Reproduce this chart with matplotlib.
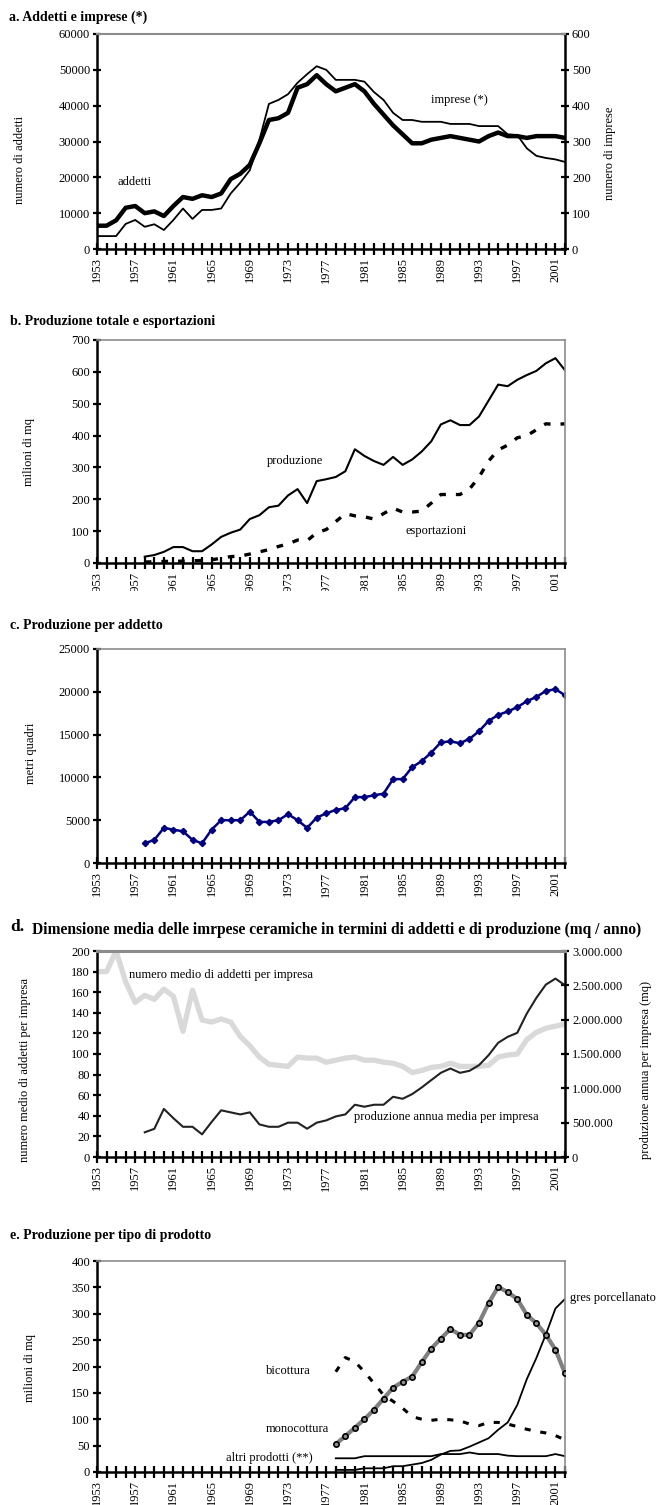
import numpy as np
import matplotlib
matplotlib.use("Agg")
import matplotlib.pyplot as plt
from matplotlib.ticker import FuncFormatter, MultipleLocator
from matplotlib.patches import Rectangle

plt.rcParams['font.family'] = ['Liberation Serif', 'DejaVu Serif']

# ---------------- data ----------------
years = list(range(1953, 2003))
tick_years = list(range(1953, 2003, 4))

# a. addetti (left) and imprese (right)
addetti = [6500, 6500, 8000, 11500, 12000, 10000, 10500, 9200, 12000, 14500,
           14000, 15000, 14500, 15500, 19500, 21000, 23500, 29500, 36000, 36500,
           38000, 45000, 46000, 48500, 46000, 44000, 45000, 46000, 44000, 40500,
           37500, 34500, 32000, 29500, 29500, 30500, 31000, 31500, 31000, 30500,
           30000, 31500, 32500, 31500, 31500, 31000, 31500, 31500, 31500, 31000]
imprese = [36, 36, 36, 70, 81, 62, 69, 53, 81, 113,
           84, 109, 109, 113, 155, 185, 220, 304, 405, 416,
           432, 464, 488, 510, 500, 472, 472, 472, 467, 438,
           416, 380, 360, 360, 355, 355, 355, 349, 349, 349,
           343, 343, 343, 320, 318, 281, 260, 254, 250, 243]

# b. produzione / esportazioni (milioni di mq), from 1958
years_p = list(range(1958, 2003))
produzione = [20, 25, 35, 50, 50, 37, 37, 58, 82, 95,
              105, 138, 150, 175, 180, 212, 232, 188, 257, 263,
              270, 288, 357, 336, 320, 308, 333, 308, 325, 350,
              382, 435, 448, 433, 433, 460, 510, 560, 555, 575,
              590, 603, 627, 643, 605]
esportazioni = [3, 4, 5, 5, 6, 7, 8, 10, 15, 20,
                22, 28, 35, 42, 52, 60, 72, 70, 95, 105,
                130, 155, 148, 145, 138, 155, 172, 160, 160, 163,
                188, 215, 215, 215, 232, 270, 320, 355, 370, 393,
                400, 418, 437, 435, 437]

# c. produzione per addetto (metri quadri)
prod_addetto = [2300, 2700, 4100, 3900, 3700, 2700, 2300, 3900, 5000, 5000,
                5000, 6000, 4800, 4800, 5000, 5700, 5000, 4100, 5300, 5800,
                6200, 6400, 7700, 7700, 7900, 8100, 9800, 9800, 11200, 11900,
                12900, 14100, 14200, 14000, 14500, 15400, 16600, 17300, 17700, 18200,
                18900, 19400, 20100, 20300, 19600]

# d. numero medio addetti per impresa (left) / produzione media per impresa (right)
addetti_impresa = [180, 180, 200, 170, 150, 157, 153, 163, 156, 122,
                   162, 133, 131, 134, 131, 117, 108, 97, 90, 89,
                   88, 97, 96, 96, 92, 94, 96, 97, 94, 94,
                   92, 91, 88, 82, 84, 87, 88, 91, 88, 88,
                   88, 89, 97, 99, 100, 114, 121, 125, 127, 129]
prod_impresa = [360000, 410000, 700000, 565000, 440000, 440000, 330000, 510000, 680000, 650000,
                620000, 650000, 475000, 440000, 440000, 500000, 500000, 412000, 500000, 533000,
                591000, 620000, 761000, 732000, 761000, 761000, 877000, 848000, 916000, 1013000,
                1120000, 1226000, 1289000, 1226000, 1255000, 1338000, 1483000, 1663000, 1750000, 1808000,
                2089000, 2317000, 2511000, 2598000, 2501000]

# e. produzione per tipo di prodotto (milioni di mq), from 1978
years_e = list(range(1978, 2003))
monocottura = [53, 68, 84, 100, 118, 139, 160, 171, 181, 208,
               234, 253, 271, 260, 260, 283, 320, 351, 341, 328,
               298, 282, 260, 232, 187]
bicottura = [190, 217, 209, 190, 168, 146, 134, 121, 105, 100,
             98, 100, 99, 97, 91, 88, 94, 94, 91, 86,
             81, 77, 74, 69, 61]
gres = [4, 4, 4, 7, 7, 7, 11, 11, 14, 17,
        23, 33, 40, 41, 48, 56, 64, 80, 94, 127,
        176, 216, 261, 310, 328]
altri = [26, 26, 26, 30, 30, 30, 30, 30, 30, 30,
         30, 34, 34, 34, 37, 34, 34, 34, 31, 30,
         30, 30, 30, 34, 30]

# ---------------- layout helpers ----------------
W, H = 661, 1505
fig = plt.figure(figsize=(W / 100, H / 100), dpi=100)


def fx(x):
    return x / W


def fy(y):
    return 1 - y / H


def make_ax(top, bottom, left=97, right=565):
    return fig.add_axes([fx(left), fy(bottom), fx(right - left), (bottom - top) / H])


TICK_FS = 9
LAB_FS = 9


def style_x(ax):
    ax.set_xlim(1953, 2002)
    ax.set_xticks(years)
    ax.set_xticklabels([str(y) if y in tick_years else '' for y in years],
                       rotation=90, fontsize=TICK_FS)
    ax.tick_params(axis='x', direction='inout', length=8, width=1.6, pad=2)
    ax.tick_params(axis='y', direction='inout', length=6, width=1.6, labelsize=TICK_FS, pad=2)
    ax.spines['left'].set_linewidth(1.8)
    ax.spines['bottom'].set_linewidth(1.8)
    ax.spines['top'].set_color('#8c8c8c')
    ax.spines['right'].set_color('#8c8c8c')
    ax.spines['top'].set_linewidth(1.2)
    ax.spines['right'].set_linewidth(1.2)


def vlabel(x, y, s):
    fig.text(fx(x), fy(y), s, rotation=90, ha='center', va='center', fontsize=LAB_FS)


def note(x, y, s, ha='center'):
    fig.text(fx(x), fy(y), s, ha=ha, va='center', fontsize=LAB_FS)


def title(x, y, s, size=10):
    fig.text(fx(x), fy(y), s, ha='left', va='center', fontsize=size, fontweight='bold')


# ---------------- a ----------------
axa = make_ax(34, 249)
axa.plot(years, addetti, color='black', lw=3.2, zorder=3)
axa.set_ylim(0, 60000)
axa.yaxis.set_major_locator(MultipleLocator(10000))
style_x(axa)
axa.spines['right'].set_visible(False)
axa2 = axa.twinx()
axa2.plot(years, imprese, color='black', lw=1.3)
axa2.set_ylim(0, 600)
axa2.yaxis.set_major_locator(MultipleLocator(100))
axa2.tick_params(axis='y', direction='inout', length=6, width=1.6, labelsize=TICK_FS, pad=2)
axa2.spines['right'].set_linewidth(1.8)
axa2.spines['right'].set_color('black')
axa2.spines['top'].set_color('#8c8c8c')
axa2.spines['top'].set_linewidth(1.5)
axa2.spines['left'].set_visible(False)
axa2.spines['bottom'].set_visible(False)
title(9, 17, 'a. Addetti e imprese (*)')
vlabel(20, 160, 'numero di addetti')
vlabel(610, 153, 'numero di imprese')
note(135, 182, 'addetti')
note(459, 100, 'imprese (*)')

# ---------------- b ----------------
axb = make_ax(340, 563)
axb.plot(years_p, produzione, color='black', lw=1.5)
axb.plot(years_p, esportazioni, color='black', lw=2.4, dashes=(2.0, 3.0))
axb.set_ylim(0, 700)
axb.yaxis.set_major_locator(MultipleLocator(100))
style_x(axb)
title(10, 321, 'b. Produzione totale e esportazioni')
vlabel(29, 452, 'milioni di mq')
note(295, 461, 'produzione')
note(436, 531, 'esportazioni')

# ---------------- c ----------------
axc = make_ax(649, 863)
axc.plot(years_p, prod_addetto, color='#000080', lw=1.8, marker='D', markersize=3.2)
axc.set_ylim(0, 25000)
axc.yaxis.set_major_locator(MultipleLocator(5000))
style_x(axc)
title(10, 626, 'c. Produzione per addetto')
vlabel(31, 753, 'metri quadri')

# ---------------- d ----------------
axd = make_ax(951, 1157)
axd.plot(years, addetti_impresa, color='#d9d9d9', lw=3.8, zorder=2)
axd.set_ylim(0, 200)
axd.yaxis.set_major_locator(MultipleLocator(20))
style_x(axd)
axd.spines['right'].set_visible(False)
axd2 = axd.twinx()
axd2.plot(years_p, prod_impresa, color='#222222', lw=1.5)
axd2.set_ylim(0, 3000000)
axd2.yaxis.set_major_locator(MultipleLocator(500000))
axd2.yaxis.set_major_formatter(FuncFormatter(lambda v, p: f"{int(v):,}".replace(',', '.')))
axd2.tick_params(axis='y', direction='inout', length=6, width=1.6, labelsize=TICK_FS, pad=2)
axd2.spines['right'].set_linewidth(1.8)
axd2.spines['right'].set_color('black')
axd2.spines['top'].set_color('#8c8c8c')
axd2.spines['top'].set_linewidth(2.2)
axd2.spines['left'].set_visible(False)
axd2.spines['bottom'].set_visible(False)
fig.text(fx(10), fy(927), 'd.', ha='left', va='center', fontsize=12.5, fontweight='bold')
title(32, 930, 'Dimensione media delle imrpese ceramiche in termini di addetti e di produzione (mq / anno)', size=11.2)
vlabel(25, 1070, 'numero medio di addetti per impresa')
vlabel(646, 1070, 'produzione annua per impresa (mq)')
note(129, 975, 'numero medio di addetti per impresa', ha='left')
note(354, 1117, 'produzione annua media per impresa', ha='left')

# ---------------- e ----------------
axe = make_ax(1261, 1472)
axe.plot(years_e, bicottura, color='black', lw=2.2, dashes=(2.0, 3.2))
axe.plot(years_e, altri, color='black', lw=1.3)
axe.plot(years_e, gres, color='black', lw=1.3)
axe.plot(years_e, monocottura, color='#808080', lw=3.0, marker='o', markersize=3.8,
         markerfacecolor='#909090', markeredgecolor='black', markeredgewidth=1.2, zorder=4)
axe.set_ylim(0, 400)
axe.yaxis.set_major_locator(MultipleLocator(50))
style_x(axe)
title(10, 1236, 'e. Produzione per tipo di prodotto')
vlabel(30, 1368, 'milioni di mq')
note(266, 1371, 'bicottura', ha='left')
note(266, 1429, 'monocottura', ha='left')
note(226, 1458, 'altri prodotti (**)', ha='left')
note(570, 1298, 'gres porcellanato', ha='left')

# panel c's white area hides the lower part of panel b's year labels
fig.patches.append(Rectangle((0, fy(606)), 1, (606 - 591) / H, transform=fig.transFigure,
                             facecolor='white', edgecolor='none', zorder=10))

fig.savefig('out.png', dpi=100)
